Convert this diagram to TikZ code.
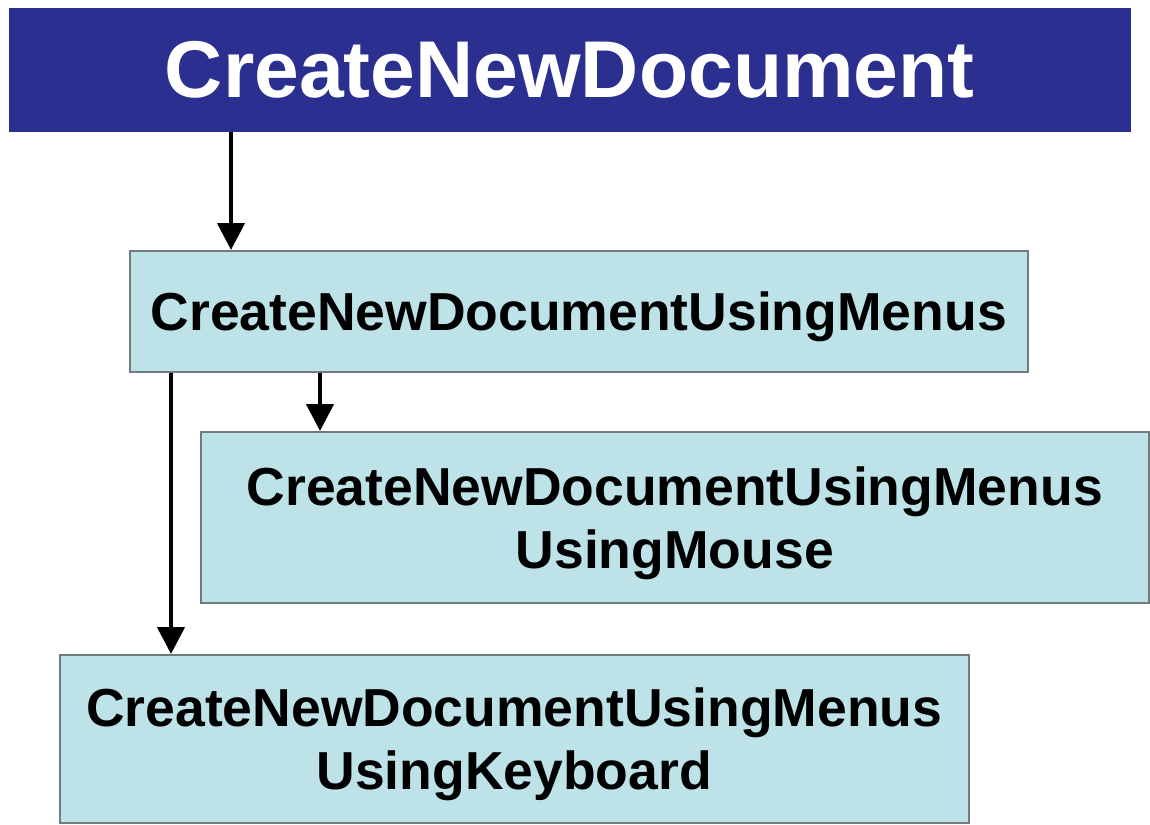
\documentclass[tikz,border=0pt]{standalone}
\usepackage{fontspec}
\setmainfont{Liberation Sans}
\usepackage{tikz}
\usetikzlibrary{arrows.meta,positioning,calc}
\definecolor{Navy}{HTML}{2B2F8F}
\definecolor{Pale}{HTML}{BDE2E7}
\definecolor{Edge}{HTML}{707C80}
\tikzset{
  box/.style={draw=Edge, line width=1.5pt, fill=Pale, anchor=north west,
              align=center, inner sep=0pt, text depth=0pt,
              font=\bfseries\fontsize{53.5}{63}\selectfont},
  tall/.style={box, text depth=-5pt},
  head/.style={box, draw=Navy, fill=Navy, text=white,
               font=\bfseries\fontsize{80.5}{90}\selectfont},
  arrow/.style={-{Triangle[length=27pt,width=27pt]}, line width=4.5pt, draw=black},
}
\begin{document}
\begin{tikzpicture}[x=1pt,y=-1pt]
  \useasboundingbox (0,0) rectangle (1150,824);
  \node[head, minimum width=1120pt, minimum height=122pt] (doc) at (9,8) {CreateNewDocument};
  \node[box, minimum width=898pt, minimum height=121pt] (menus) at (129,250) {CreateNewDocumentUsingMenus};
  \node[tall, minimum width=948pt, minimum height=171pt] (mouse) at (200,431) {CreateNewDocumentUsingMenus\\UsingMouse};
  \node[tall, minimum width=909pt, minimum height=168pt] (keys) at (59,654) {CreateNewDocumentUsingMenus\\UsingKeyboard};
  \draw[arrow] ([xshift=102pt]menus.north west |- doc.south) -- ([xshift=102pt]menus.north west);
  \draw[arrow] ([xshift=120pt]mouse.north west |- menus.south) -- ([xshift=120pt]mouse.north west);
  \draw[arrow] ([xshift=112pt]keys.north west |- menus.south) -- ([xshift=112pt]keys.north west);
\end{tikzpicture}
\end{document}
